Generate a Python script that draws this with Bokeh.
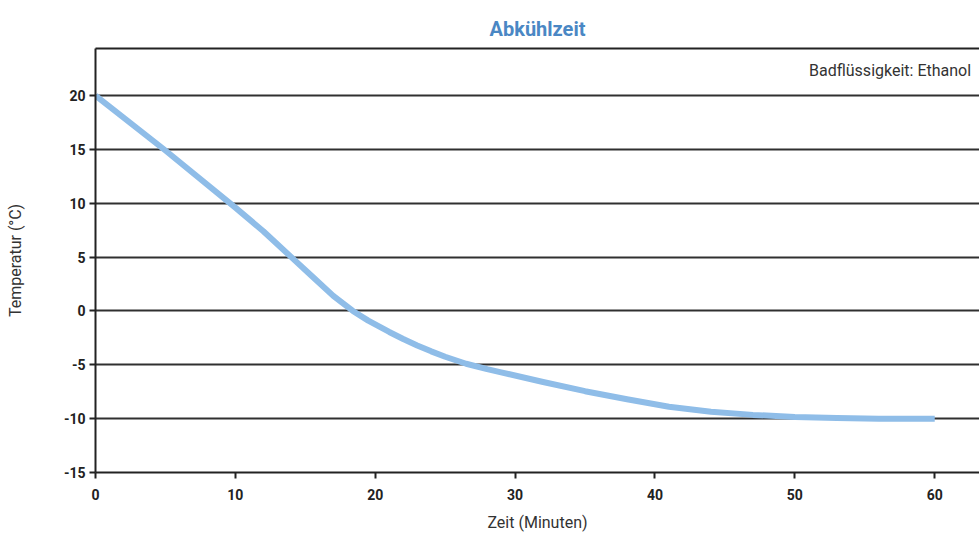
from bokeh.plotting import figure
from bokeh.models import Range1d, FixedTicker, LinearAxis, Label, Title
from bokeh.embed import file_html
from bokeh.resources import INLINE

# data
zeit_min = [0, 5, 10, 12, 14, 15.5, 17, 18.4, 19.5, 20, 21, 22, 23, 24, 25, 26.5, 28, 29, 32, 35,
            38, 41, 44, 47, 50, 53, 56, 60]
temperatur_c = [20, 14.9, 9.6, 7.4, 5.0, 3.2, 1.4, 0.0, -0.9, -1.25, -1.95, -2.6, -3.2, -3.75,
                -4.25, -4.9, -5.4, -5.7, -6.6, -7.45, -8.2, -8.9, -9.35, -9.65, -9.85, -9.95,
                -10, -10]
x_ticks = [0, 10, 20, 30, 40, 50, 60]
y_ticks = [-15, -10, -5, 0, 5, 10, 15, 20]
y_tick_labels = ["-15", "-10", "-5", "0", "5", "10", "15", "20"]

title_text = "Abkühlzeit"
note_text = "Badflüssigkeit: Ethanol"
x_label = "Zeit (Minuten)"
y_label = "Temperatur (°C)"

FONT = "Roboto"

p = figure(width=979, height=540, output_backend="svg", toolbar_location=None,
           x_range=Range1d(0, 63.2), y_range=Range1d(-15, 24.37),
           min_border_left=95, min_border_right=0, min_border_top=48, min_border_bottom=68)
p.outline_line_color = None
p.background_fill_color = "white"
p.border_fill_color = "white"

p.title = Title(text=title_text, align="center", text_font=FONT, text_font_size="20px",
                text_font_style="bold", text_color="#4a87c4", offset=8, standoff=15)

# grid
p.xgrid.grid_line_color = None
p.ygrid.ticker = FixedTicker(ticks=y_ticks[1:])
p.ygrid.grid_line_color = "#303030"
p.ygrid.grid_line_width = 2

for ax in (p.xaxis[0], p.yaxis[0]):
    ax.axis_line_color = "#222222"
    ax.axis_line_width = 2
    ax.major_tick_line_color = "#222222"
    ax.major_tick_line_width = 2
    ax.major_tick_in = 0
    ax.major_tick_out = 6
    ax.minor_tick_line_color = None
    ax.major_label_text_font = FONT
    ax.major_label_text_font_style = "bold"
    ax.major_label_text_font_size = "14px"
    ax.major_label_text_color = "#222222"
    ax.axis_label_text_font = FONT
    ax.axis_label_text_font_style = "normal"
    ax.axis_label_text_font_size = "16px"
    ax.axis_label_text_color = "#333333"

p.xaxis.ticker = FixedTicker(ticks=x_ticks)
p.yaxis.ticker = FixedTicker(ticks=y_ticks)
p.yaxis.major_label_overrides = {t: s for t, s in zip(y_ticks, y_tick_labels)}
p.xaxis.axis_label = x_label
p.yaxis.axis_label = y_label
p.xaxis.major_label_standoff = 10
p.xaxis.axis_label_standoff = 10
p.yaxis.major_label_standoff = 4
p.yaxis.axis_label_standoff = 36

top = LinearAxis(ticker=FixedTicker(ticks=[]), axis_line_color="#222222", axis_line_width=2,
                 major_tick_line_color=None, minor_tick_line_color=None,
                 major_label_text_font_size="0px")
p.add_layout(top, "above")

p.line(zeit_min, temperatur_c, line_color="#8fbde8", line_width=6, line_join="round", line_cap="butt")

p.add_layout(Label(x=62.6, y=22.3, text=note_text, text_align="right", text_baseline="middle",
                   text_font=FONT, text_font_size="16px", text_color="#333333"))

open("out.html", "w").write(file_html(p, INLINE))
